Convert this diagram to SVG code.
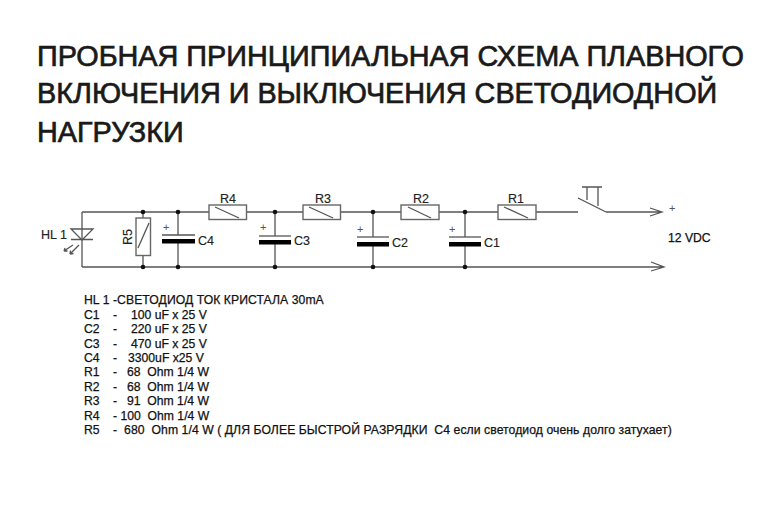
<svg xmlns="http://www.w3.org/2000/svg" width="770" height="507" viewBox="0 0 770 507">
<style>
.w{fill:none;stroke:#555;stroke-width:1.3}
.r{fill:#fff;stroke:#666;stroke-width:1.4}
.p{fill:#000;stroke:none}
.d{fill:#111;stroke:none}
text{font-family:"Liberation Sans",Arial,sans-serif;fill:#111;white-space:pre}
.t{font-size:28.800px;fill:#1a1a1a;stroke:#1a1a1a;stroke-width:.7}
.l{font-size:12.200px;stroke:#111;stroke-width:.25}
.n{font-size:12.500px;fill:#222;stroke:#222;stroke-width:.15}
.s{font-size:11px;fill:#555}
</style>
<rect width="770" height="507" fill="#fff"/>
<g id="title">
<text class="t" x="37" y="66">ПРОБНАЯ ПРИНЦИПИАЛЬНАЯ СХЕМА ПЛАВНОГО</text>
<text class="t" x="37" y="103">ВКЛЮЧЕНИЯ И ВЫКЛЮЧЕНИЯ СВЕТОДИОДНОЙ</text>
<text class="t" x="37" y="142">НАГРУЗКИ</text>
</g>
<g id="connectors">
<path class="w" d="M82 212H209M246 212H303M341 212H401M439 212H498M536 212H578M606 212H662M650 208L662 212L650 216"/>
<path class="w" d="M82 212V267M82 267H664M651 262L664 267L651 271"/>
<path class="w" d="M143 212V267M178 212V235M178 241V267M275 212V236M275 242V267M373 212V237M373 244V267M465 212V237M465 244V267"/>
<circle class="d" cx="143" cy="212" r="2.300"/><circle class="d" cx="143" cy="267" r="2.300"/>
<circle class="d" cx="178" cy="212" r="2.300"/><circle class="d" cx="178" cy="267" r="2.300"/>
<circle class="d" cx="275" cy="212" r="2.300"/><circle class="d" cx="275" cy="267" r="2.300"/>
<circle class="d" cx="373" cy="212" r="2.300"/><circle class="d" cx="373" cy="267" r="2.300"/>
<circle class="d" cx="465" cy="212" r="2.300"/><circle class="d" cx="465" cy="267" r="2.300"/>
</g>
<g id="HL1">
<path class="w" d="M71 229H93L82 240ZM71 239.500H93M79 245L70 254M70 254L70.500 250.500M70 254L73.500 253.500M73 245L64 251M64 251L65 248M64 251L67.500 251"/>
<text class="n" x="41" y="239">HL 1</text>
</g>
<g id="R5">
<rect class="r" x="136" y="218" width="14.500" height="37.500"/>
<path class="w" d="M138 248L149 223"/>
<text class="n" transform="translate(132,245) rotate(-90)">R5</text>
</g>
<g id="C4">
<path class="w" d="M162 235H195"/><rect class="p" x="162" y="239" width="33" height="4.500"/>
<text class="n" x="198" y="245">C4</text><text class="s" x="163" y="231">+</text>
</g>
<g id="R4">
<rect class="r" x="209" y="205" width="37.500" height="14.500"/><path class="w" d="M215 207L239 218"/>
<text class="n" x="220" y="203">R4</text>
</g>
<g id="C3">
<path class="w" d="M259 236H291"/><rect class="p" x="259" y="240" width="32" height="4.500"/>
<text class="n" x="294" y="245">C3</text><text class="s" x="260" y="231">+</text>
</g>
<g id="R3">
<rect class="r" x="303" y="205" width="37.500" height="14.500"/><path class="w" d="M309 207L333 218"/>
<text class="n" x="315" y="203">R3</text>
</g>
<g id="C2">
<path class="w" d="M357 237H389"/><rect class="p" x="357" y="242" width="32" height="4.500"/>
<text class="n" x="392" y="247">C2</text><text class="s" x="357" y="233">+</text>
</g>
<g id="R2">
<rect class="r" x="401" y="205" width="38" height="14.500"/><path class="w" d="M408 207L431 218"/>
<text class="n" x="413" y="203">R2</text>
</g>
<g id="C1">
<path class="w" d="M449 237H481"/><rect class="p" x="449" y="242" width="32" height="4.500"/>
<text class="n" x="484" y="247">C1</text><text class="s" x="449" y="233">+</text>
</g>
<g id="R1">
<rect class="r" x="498" y="205" width="38" height="14.500"/><path class="w" d="M504 207L528 218"/>
<text class="n" x="508" y="203">R1</text>
</g>
<g id="switch">
<path class="w" d="M578 198L606 212M582 187H602M587 187V200M598 187V206"/>
</g>
<g id="supply">
<text class="s" x="669" y="212">+</text>
<text class="l" x="668" y="242">12 VDC</text>
</g>
<g id="legend">
<text class="l" x="84" y="304" letter-spacing=".06">HL 1 -СВЕТОДИОД ТОК КРИСТАЛА 30mA</text>
<text class="l" x="84" y="318.500">C1</text><text class="l" x="113" y="318.500">-</text><text class="l" x="131" y="318.500">100 uF x 25 V</text>
<text class="l" x="84" y="333">C2</text><text class="l" x="113" y="333">-</text><text class="l" x="131" y="333">220 uF x 25 V</text>
<text class="l" x="84" y="347.500">C3</text><text class="l" x="113" y="347.500">-</text><text class="l" x="131" y="347.500">470 uF x 25 V</text>
<text class="l" x="84" y="362">C4</text><text class="l" x="113" y="362">-</text><text class="l" x="128" y="362">3300uF x25 V</text>
<text class="l" x="84" y="376">R1</text><text class="l" x="113" y="376">-</text><text class="l" x="127" y="376">68  Ohm 1/4 W</text>
<text class="l" x="84" y="390.500">R2</text><text class="l" x="113" y="390.500">-</text><text class="l" x="127" y="390.500">68  Ohm 1/4 W</text>
<text class="l" x="84" y="405">R3</text><text class="l" x="113" y="405">-</text><text class="l" x="127" y="405">91  Ohm 1/4 W</text>
<text class="l" x="84" y="419.500">R4</text><text class="l" x="113" y="419.500">- 100  Ohm 1/4 W</text>
<text class="l" x="84" y="434">R5</text><text class="l" x="113" y="434" letter-spacing=".07">-  680  Ohm 1/4 W ( ДЛЯ БОЛЕЕ БЫСТРОЙ РАЗРЯДКИ  C4 если светодиод очень долго затухает)</text>
</g>
</svg>
